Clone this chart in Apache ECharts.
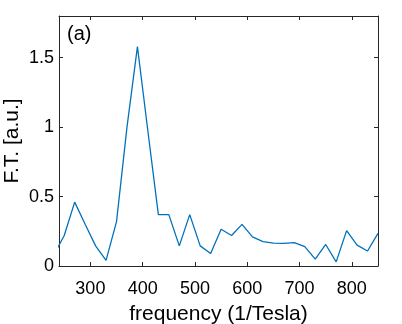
<!DOCTYPE html>
<html>
<head>
<meta charset="utf-8">
<script src="https://cdn.jsdelivr.net/npm/echarts@6/dist/echarts.min.js"></script>
<style>
  html, body { margin: 0; padding: 0; background: #fff; }
  #chart { width: 402px; height: 324px; }
</style>
</head>
<body>
<div id="chart"></div>
<script>
// frequency (1/Tesla) and Fourier amplitude
const freq = [230, 250, 270, 290, 310, 330, 350, 370, 390, 410, 430, 450, 470, 490, 510, 530,
  550, 570, 590, 610, 630, 650, 670, 690, 710, 730, 750, 770, 790, 810, 830, 850]
const ft = [0.08, 0.22, 0.46, 0.30, 0.145, 0.04, 0.32, 1.0, 1.58, 0.97, 0.37, 0.37, 0.145, 0.37, 0.145, 0.09,
  0.265, 0.22, 0.30, 0.21, 0.175, 0.165, 0.163, 0.168, 0.14, 0.05, 0.155, 0.03, 0.255, 0.15, 0.108, 0.235]
const xTicks = [300, 400, 500, 600, 700, 800]
const yTicks = [0, 0.5, 1, 1.5]

const axisColor = '#262626'
const font = 'Liberation Sans, Arial, Helvetica, sans-serif'

const chart = echarts.init(document.getElementById('chart'))

const boxAxis = (extra) => Object.assign({
  type: 'value',
  axisLine: { show: true, onZero: false, lineStyle: { color: axisColor, width: 1 } },
  axisTick: { show: true, inside: true, length: 4, lineStyle: { color: axisColor } },
  splitLine: { show: false },
}, extra)

chart.setOption({
  animation: false,
  backgroundColor: '#fff',
  grid: { left: 59, right: 24, top: 16, bottom: 58, containLabel: false, outerBoundsMode: 'none' },
  title: {
    text: '(a)',
    left: 62,
    top: 19,
    textStyle: { fontFamily: font, fontSize: 20, fontWeight: 'normal', color: '#000' },
  },
  xAxis: [
    boxAxis({
      position: 'bottom',
      min: 240,
      max: 850,
      name: 'frequency (1/Tesla)',
      nameLocation: 'middle',
      nameGap: 38,
      nameMoveOverlap: false,
      nameTextStyle: { fontFamily: font, fontSize: 21, color: '#000' },
      axisTick: { show: true, inside: true, length: 4, lineStyle: { color: axisColor }, customValues: xTicks },
      axisLabel: { fontFamily: font, fontSize: 18, color: '#000', margin: 14, customValues: xTicks },
    }),
    boxAxis({
      position: 'top',
      min: 240,
      max: 850,
      axisTick: { show: true, inside: true, length: 4, lineStyle: { color: axisColor }, customValues: xTicks },
      axisLabel: { show: false },
    }),
  ],
  yAxis: [
    boxAxis({
      position: 'left',
      min: 0,
      max: 1.8,
      name: 'F.T. [a.u.]',
      nameLocation: 'middle',
      nameGap: 36,
      nameMoveOverlap: false,
      nameTextStyle: { fontFamily: font, fontSize: 21, color: '#000' },
      axisTick: { show: true, inside: true, length: 4, lineStyle: { color: axisColor }, customValues: yTicks },
      axisLabel: { fontFamily: font, fontSize: 18, color: '#000', margin: 5, customValues: yTicks },
    }),
    boxAxis({
      position: 'right',
      min: 0,
      max: 1.8,
      axisTick: { show: true, inside: true, length: 4, lineStyle: { color: axisColor }, customValues: yTicks },
      axisLabel: { show: false },
    }),
  ],
  series: [
    {
      type: 'line',
      xAxisIndex: 0,
      yAxisIndex: 0,
      data: freq.map((f, i) => [f, ft[i]]),
      symbol: 'none',
      clip: true,
      lineStyle: { color: '#0072BD', width: 1.3 },
    },
  ],
})
</script>
</body>
</html>
